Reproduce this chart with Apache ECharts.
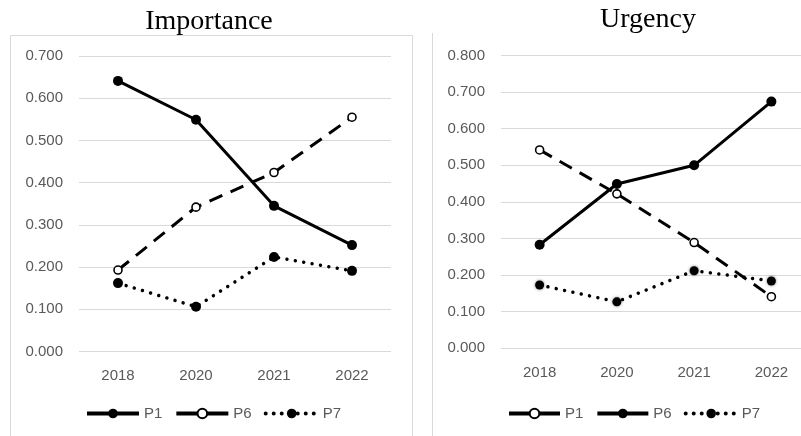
<!DOCTYPE html>
<html><head><meta charset="utf-8">
<script src="https://cdn.jsdelivr.net/npm/echarts@6/dist/echarts.min.js"></script>
<style>html,body{margin:0;padding:0;background:#fff}#c{width:801px;height:436px}</style>
</head><body><div id="c"></div>
<script>
const years = ['2018', '2020', '2021', '2022'];
const impP1 = [0.641, 0.549, 0.345, 0.252];
const impP6 = [0.193, 0.342, 0.424, 0.555];
const impP7 = [0.162, 0.106, 0.224, 0.191];
const urgP1 = [0.542, 0.422, 0.289, 0.141];
const urgP6 = [0.283, 0.449, 0.500, 0.674];
const urgP7 = [0.173, 0.127, 0.212, 0.184];
const impTicksMax = 0.7, urgTicksMax = 0.8;

const axisFont = {fontFamily: 'Liberation Sans', fontSize: 15, color: '#595959'};
const solid = {color: '#000', width: 3, type: 'solid'};
const dashed = {color: '#000', width: 3, type: [14, 9]};
const dotted = {color: '#000', width: 3.5, type: [0.01, 8.5], cap: 'round'};
const filled = {color: '#000', borderColor: '#000', borderWidth: 0};
const open = {color: '#fff', borderColor: '#000', borderWidth: 1.6};
const glow = {color: '#000', borderWidth: 0, shadowColor: 'rgba(0,0,0,0.5)', shadowBlur: 3};

function ser(name, data, idx, ls, is, size) {
  return {type: 'line', name, data, xAxisIndex: idx, yAxisIndex: idx,
    symbol: 'circle', symbolSize: size, showSymbol: true,
    lineStyle: ls, itemStyle: is, animation: false, silent: true};
}
function yAx(idx, max) {
  return {type: 'value', gridIndex: idx, min: 0, max, interval: 0.1,
    axisLabel: Object.assign({formatter: v => v.toFixed(3), margin: 16}, axisFont),
    axisLine: {show: false}, axisTick: {show: false},
    splitLine: {lineStyle: {color: '#d9d9d9', width: 1}}};
}
function xAx(idx) {
  return {type: 'category', gridIndex: idx, data: years, boundaryGap: true,
    axisLabel: Object.assign({margin: 17}, axisFont),
    axisLine: {show: false}, axisTick: {show: false}, splitLine: {show: false}};
}
const legSolid = {type: 'solid', width: 4};
const legDot = {type: [0.01, 8], width: 4, cap: 'round'};
const legText = {fontFamily: 'Liberation Sans', fontSize: 15, color: '#595959'};
const chart = echarts.init(document.getElementById('c'));
chart.setOption({
  backgroundColor: '#fff',
  animation: false,
  grid: [
    {left: 79, right: 410, top: 56, bottom: 84.5, outerBoundsMode: 'none', containLabel: false},
    {left: 501, right: -9, top: 55.5, bottom: 87.7, outerBoundsMode: 'none', containLabel: false}
  ],
  xAxis: [xAx(0), xAx(1)],
  yAxis: [yAx(0, impTicksMax), yAx(1, urgTicksMax)],
  legend: [
    {left: 85, top: 406, padding: 0, itemWidth: 52, itemHeight: 12, itemGap: 12, selectedMode: false,
     data: [{name: 'P1', lineStyle: legSolid}, {name: 'P6', lineStyle: legSolid}, {name: 'P7', lineStyle: legDot}],
     textStyle: legText},
    {left: 507, top: 406, padding: 0, itemWidth: 51, itemHeight: 12, itemGap: 12, selectedMode: false,
     data: [{name: 'U P1', lineStyle: legSolid}, {name: 'U P6', lineStyle: legSolid}, {name: 'U P7', lineStyle: legDot}],
     formatter: n => n.replace('U ', ''),
     textStyle: legText}
  ],
  series: [
    ser('P1', impP1, 0, solid, filled, 10),
    ser('P6', impP6, 0, dashed, open, 8),
    ser('P7', impP7, 0, dotted, filled, 10),
    ser('U P1', urgP1, 1, dashed, open, 8),
    ser('U P6', urgP6, 1, solid, filled, 10),
    ser('U P7', urgP7, 1, dotted, glow, 9)
  ],
  graphic: [
    {type: 'polyline', silent: true, shape: {points: [[10.5, 440], [10.5, 35.5], [412.5, 35.5], [412.5, 440]]},
     style: {stroke: '#d9d9d9', lineWidth: 1, fill: null}},
    {type: 'line', silent: true, shape: {x1: 432.5, y1: 33, x2: 432.5, y2: 440},
     style: {stroke: '#d9d9d9', lineWidth: 1}},
    {type: 'text', silent: true, x: 209, y: 22,
     style: {text: 'Importance', fill: '#000', font: '28px "Liberation Serif"', textAlign: 'center', textVerticalAlign: 'middle'}},
    {type: 'text', silent: true, x: 648, y: 20,
     style: {text: 'Urgency', fill: '#000', font: '28px "Liberation Serif"', textAlign: 'center', textVerticalAlign: 'middle'}}
  ]
});
</script></body></html>
